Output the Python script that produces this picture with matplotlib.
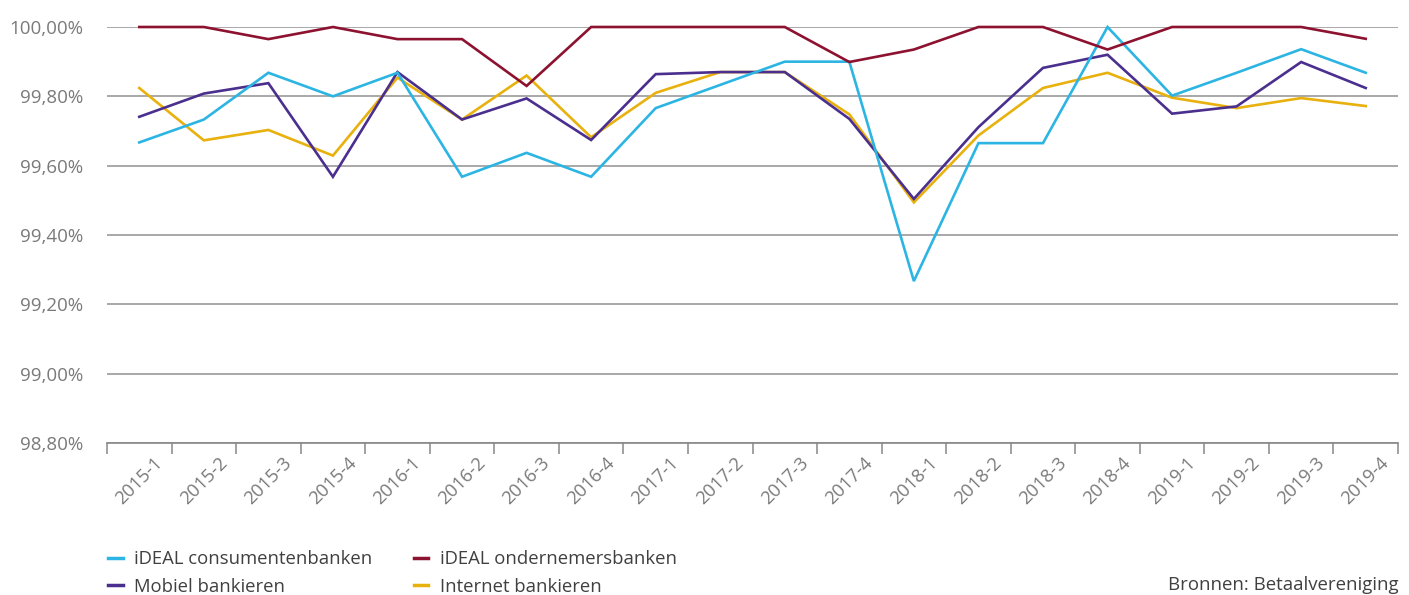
import matplotlib
matplotlib.use("Agg")
import matplotlib.pyplot as plt
from matplotlib.ticker import FixedLocator

plt.rcParams['font.family'] = ['Open Sans', 'DejaVu Sans']

categories = ["2015-1", "2015-2", "2015-3", "2015-4",
              "2016-1", "2016-2", "2016-3", "2016-4",
              "2017-1", "2017-2", "2017-3", "2017-4",
              "2018-1", "2018-2", "2018-3", "2018-4",
              "2019-1", "2019-2", "2019-3", "2019-4"]

ideal_consument = [99.667, 99.733, 99.868, 99.800, 99.868, 99.568, 99.637, 99.568,
                   99.766, 99.833, 99.900, 99.900, 99.267, 99.665, 99.665, 100.0,
                   99.802, 99.868, 99.936, 99.868]
ideal_ondernemer = [100.0, 100.0, 99.965, 100.0, 99.965, 99.965, 99.830, 100.0,
                    100.0, 100.0, 100.0, 99.899, 99.935, 100.0, 100.0, 99.935,
                    100.0, 100.0, 100.0, 99.966]
mobiel = [99.741, 99.808, 99.838, 99.568, 99.870, 99.733, 99.794, 99.674,
          99.864, 99.870, 99.870, 99.735, 99.504, 99.711, 99.882, 99.920,
          99.750, 99.771, 99.899, 99.824]
internet = [99.824, 99.673, 99.703, 99.629, 99.854, 99.733, 99.860, 99.682,
            99.810, 99.870, 99.870, 99.748, 99.494, 99.687, 99.824, 99.868,
            99.796, 99.766, 99.795, 99.772]

series_names = ["iDEAL consumentenbanken", "Mobiel bankieren",
                "iDEAL ondernemersbanken", "Internet bankieren"]
colors = {"iDEAL consumentenbanken": "#2cb5e3",
          "iDEAL ondernemersbanken": "#8c1230",
          "Mobiel bankieren": "#4a2f8e",
          "Internet bankieren": "#e8b10e"}
data = {"iDEAL consumentenbanken": ideal_consument,
        "iDEAL ondernemersbanken": ideal_ondernemer,
        "Mobiel bankieren": mobiel,
        "Internet bankieren": internet}

y_ticks = [98.8, 99.0, 99.2, 99.4, 99.6, 99.8, 100.0]
y_labels = ["98,80%", "99,00%", "99,20%", "99,40%", "99,60%", "99,80%", "100,00%"]
source = "Bronnen: Betaalvereniging"

W, H = 1409, 595
fig = plt.figure(figsize=(W / 100, H / 100), dpi=100)
ax = fig.add_axes([107 / W, 1 - 443 / H, (1398 - 107) / W, (443 - 27) / H])

x = list(range(len(categories)))
handles = {}
for name in ["Internet bankieren", "Mobiel bankieren", "iDEAL consumentenbanken", "iDEAL ondernemersbanken"]:
    ln, = ax.plot(x, data[name], color=colors[name], lw=1.9, clip_on=False,
                  solid_joinstyle='miter', zorder=3)
    handles[name] = ln

ax.set_xlim(-0.5, len(categories) - 0.5)
ax.set_ylim(98.8, 100.0)
ax.set_yticks(y_ticks)
ax.set_yticklabels(y_labels)
ax.yaxis.grid(True, color="#999999", lw=1.2)
ax.set_axisbelow(True)
for s in ["top", "right", "left"]:
    ax.spines[s].set_visible(False)
ax.spines["bottom"].set_color("#888888")
ax.spines["bottom"].set_linewidth(1.2)
ax.tick_params(axis="y", length=0, pad=17, labelsize=13.5, labelcolor="#7a7a7a")

ax.set_xticks(x)
ax.set_xticklabels(categories, rotation=45, ha="center", rotation_mode="default")
ax.tick_params(axis="x", which="major", length=0, pad=8, labelsize=13.2, labelcolor="#7a7a7a")
ax.xaxis.set_minor_locator(FixedLocator([i - 0.5 for i in range(len(categories) + 1)]))
ax.tick_params(axis="x", which="minor", length=8, width=1.1, color="#888888")

leg = fig.legend([handles[n] for n in series_names], series_names,
                 loc="upper left", bbox_to_anchor=(108 / W, 1 - 550 / H),
                 ncol=2, frameon=False, fontsize=13.3, handlelength=0.8,
                 handletextpad=0.6, labelspacing=0.52, columnspacing=2.25,
                 borderaxespad=0, borderpad=0)
for t in leg.get_texts():
    t.set_color("#404040")
for lh in leg.get_lines():
    lh.set_linewidth(2.5)

fig.text(1398 / W, 1 - 585 / H, source, ha="right", va="center",
         fontsize=13.4, color="#404040")

fig.savefig("out.png", dpi=100)
